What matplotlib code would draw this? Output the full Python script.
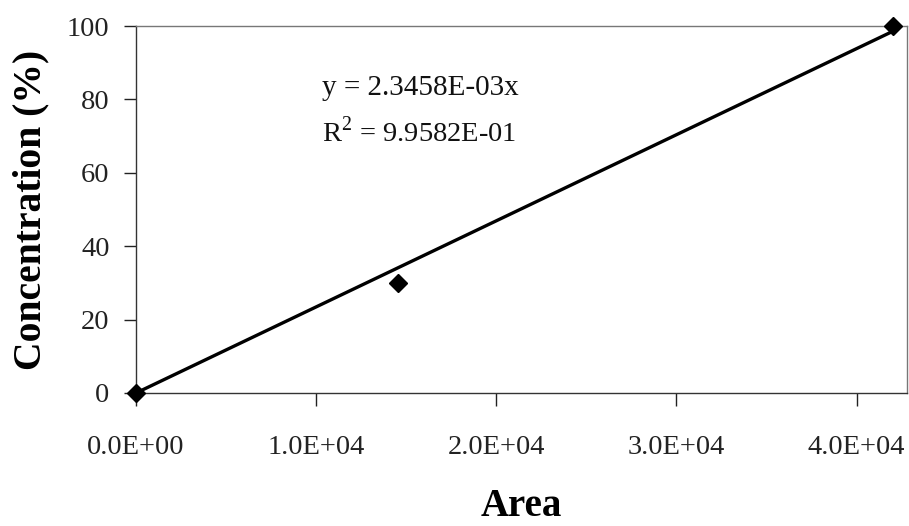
import matplotlib
matplotlib.use("Agg")
import matplotlib.pyplot as plt
import numpy as np

# Data
area = [0.0, 14550.0, 42000.0]
concentration = [0.0, 30.0, 100.0]
slope = 2.3458e-03
eq_text = "y = 2.3458E-03x"
r2_text = "R$^2$ = 9.9582E-01"
x_ticks = [0, 10000, 20000, 30000, 40000]
x_tick_labels = ["0.0E+00", "1.0E+04", "2.0E+04", "3.0E+04", "4.0E+04"]
y_ticks = [0, 20, 40, 60, 80, 100]

plt.rcParams['font.family'] = ['Liberation Serif', 'DejaVu Serif']
plt.rcParams['mathtext.fontset'] = 'custom'
plt.rcParams['mathtext.rm'] = 'Liberation Serif'

fig = plt.figure(figsize=(9.09, 5.26), dpi=100)
ax = fig.add_axes([136/909, 1-393/526, (907-136)/909, (393-26)/526])

xfit = np.array([area[0], area[-1]])
ax.plot(xfit, slope*xfit, color='black', lw=2.4, solid_capstyle='round', zorder=2)
ax.plot(area, concentration, linestyle='none', marker='D', ms=9, color='black', clip_on=False, zorder=3)

ax.set_xlim(0, 42800)
ax.set_ylim(0, 100)
ax.set_xticks(x_ticks)
ax.set_xticklabels(x_tick_labels)
ax.set_yticks(y_ticks)
ax.tick_params(axis='x', direction='out', length=9, width=1, pad=21, labelsize=20.5, colors='#222222')
ax.tick_params(axis='y', direction='out', length=9, width=1, pad=10, labelsize=20.5, colors='#222222')

for s in ['left', 'bottom']:
    ax.spines[s].set_color('#333333')
    ax.spines[s].set_linewidth(1.0)
for s in ['top', 'right']:
    ax.spines[s].set_color('#777777')
    ax.spines[s].set_linewidth(1.0)

ax.set_ylabel("Concentration (%)", fontsize=28.5, fontweight='bold', labelpad=13)
ax.set_xlabel("Area", fontsize=28, fontweight='bold')
ax.xaxis.label.set_va('baseline')
ax.xaxis.set_label_coords(0.5, -(516-393)/367)

ax.text(322/909, 1-95/526, eq_text, transform=fig.transFigure, fontsize=21, ha='left', va='baseline', color='#111111')
ax.text(322/909, 1-142/526, r2_text, transform=fig.transFigure, fontsize=20.5, ha='left', va='baseline', color='#111111')

fig.savefig("out.png", dpi=100)
